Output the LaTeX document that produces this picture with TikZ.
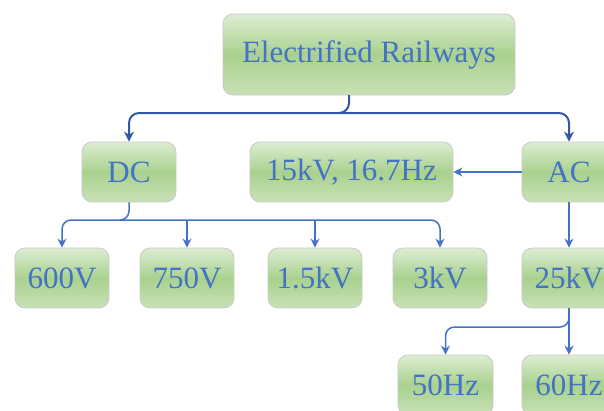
\documentclass[tikz,border=0pt]{standalone}
\usepackage{fontspec}
\setmainfont{Liberation Serif}
\usetikzlibrary{arrows.meta}
\definecolor{txtblue}{HTML}{4472C4}
\definecolor{lineblue}{HTML}{4472C4}
\definecolor{darkline}{HTML}{3158A2}
\definecolor{gtop}{HTML}{DDEDD3}
\definecolor{gmid}{HTML}{A9D18E}
\definecolor{gbot}{HTML}{C8E1B6}
\definecolor{boxborder}{HTML}{CACACA}
\tikzset{
  gbox/.style={draw=boxborder, line width=0.8pt, rounded corners=10pt,
    top color=gtop, bottom color=gbot, middle color=gmid,
    minimum height=60pt, minimum width=94pt, inner sep=0pt,
    text=txtblue, font=\fontsize{31}{36}\selectfont},
  conn/.style={draw=lineblue, line width=1.5pt, rounded corners=9pt,
    -{Stealth[length=9pt,width=9pt]}},
  topconn/.style={draw=darkline, line width=2pt, rounded corners=10pt,
    -{Stealth[length=10pt,width=10pt]}},
}
\begin{document}
\begin{tikzpicture}[x=1pt,y=-1pt]
\useasboundingbox (0,0) rectangle (604,410);
\clip (0,0) rectangle (604,410);
\node[gbox, minimum width=292pt, minimum height=81pt] (top) at (369,54.5) {Electrified Railways};
\node[gbox] (dc) at (129,172) {DC};
\node[gbox, minimum width=203pt] (f15) at (351.5,172) {15kV, 16.7Hz};
\node[gbox] (ac) at (569,172) {AC};
\node[gbox] (v600) at (62,278) {600V};
\node[gbox] (v750) at (187,278) {750V};
\node[gbox] (k15) at (315,278) {1.5kV};
\node[gbox] (k3) at (440,278) {3kV};
\node[gbox] (k25) at (569,278) {25kV};
\node[gbox, minimum width=95pt] (h50) at (445.5,385) {50Hz};
\node[gbox] (h60) at (569,385) {60Hz};
% top connectors
\coordinate (tj) at (349,113);
\coordinate (ts) at (349,95);
\draw[topconn] (ts) -- (tj) -| (dc.north);
\draw[topconn] ([xshift=-10pt]tj) -| (ac.north);
% DC bus
\coordinate (dj) at (129,220);
\draw[conn] (dc.south) -- (dj) -| (v600.north);
\draw[conn] ([xshift=-9pt]dj) -| (k3.north);
\draw[conn] (v750.north |- dj) -- (v750.north);
\draw[conn] (k15.north |- dj) -- (k15.north);
% AC
\draw[conn] (ac.west) -- (f15.east);
\draw[conn] (ac.south) -- (k25.north);
% 25kV
\coordinate (kj) at (569,327);
\draw[conn] (k25.south) -- (kj) -| (h50.north);
\draw[conn] (k25.south) -- (h60.north);
\end{tikzpicture}
\end{document}
